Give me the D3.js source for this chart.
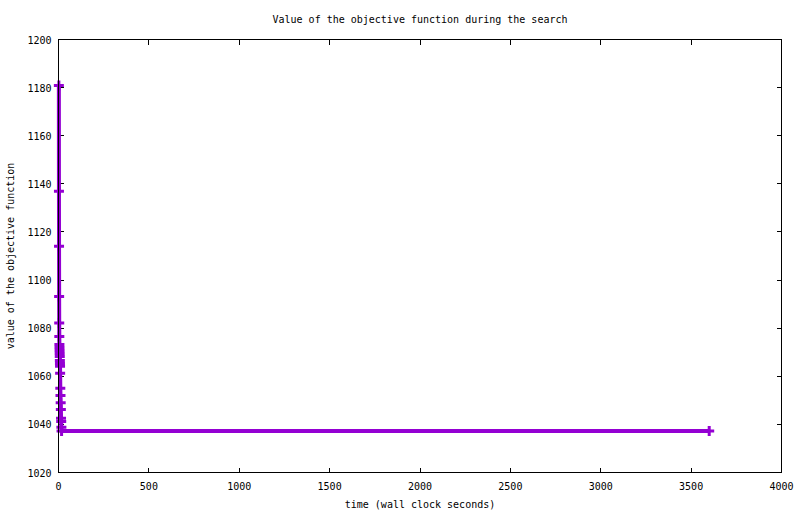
<!DOCTYPE html>
<html>
<head>
<meta charset="utf-8">
<script src="https://cdn.jsdelivr.net/npm/d3@7"></script>
<style>
  body { margin: 0; background: #fff; }
  text { font-family: "DejaVu Sans Mono", monospace; font-size: 10px; fill: #000; }
</style>
</head>
<body>
<div id="vis"></div>
<script>
// Values (time in seconds, objective value)
const TIMES = [2, 2.5, 3, 3.5, 4, 4.5, 5, 5.5, 6, 6.5, 7, 7.5, 8, 8.5, 9, 10, 11, 12, 13, 14, 15, 16, 17, 3600];
const VALUES = [1180.9, 1136.9, 1114.1, 1093.2, 1082.1, 1076.5, 1073.2, 1072.0, 1070.7, 1069.5, 1068.2, 1066.6,
                1065.3, 1064.2, 1061.3, 1055.0, 1052.0, 1049.0, 1046.2, 1042.6, 1041.2, 1038.8, 1037.3, 1037.3];
const X_TICKS = [0, 500, 1000, 1500, 2000, 2500, 3000, 3500, 4000];
const Y_TICKS = [1020, 1040, 1060, 1080, 1100, 1120, 1140, 1160, 1180, 1200];

const FRAME_WIDTH = 800;
const FRAME_HEIGHT = 514;
const MARGINS = {left: 58.5, right: 18.5, top: 39.5, bottom: 41.5};
const TICK_LEN = 5;
const COLOR = "#9400d3";

const FRAME = d3.select("#vis")
                .append("svg")
                .attr("width", FRAME_WIDTH)
                .attr("height", FRAME_HEIGHT);

const X_SCALE = d3.scaleLinear().domain([0, 4000]).range([MARGINS.left, FRAME_WIDTH - MARGINS.right]);
const Y_SCALE = d3.scaleLinear().domain([1020, 1200]).range([FRAME_HEIGHT - MARGINS.bottom, MARGINS.top]);

const x0 = X_SCALE.range()[0], x1 = X_SCALE.range()[1];
const y0 = Y_SCALE.range()[0], y1 = Y_SCALE.range()[1];

// ticks on all four sides, pointing inward
const ticks = FRAME.append("g").attr("stroke", "#000").attr("stroke-width", 1).attr("shape-rendering", "crispEdges");
X_TICKS.forEach(t => {
  ticks.append("line").attr("x1", X_SCALE(t)).attr("x2", X_SCALE(t)).attr("y1", y0).attr("y2", y0 - TICK_LEN);
  ticks.append("line").attr("x1", X_SCALE(t)).attr("x2", X_SCALE(t)).attr("y1", y1).attr("y2", y1 + TICK_LEN);
});
Y_TICKS.forEach(t => {
  ticks.append("line").attr("x1", x0).attr("x2", x0 + TICK_LEN).attr("y1", Y_SCALE(t)).attr("y2", Y_SCALE(t));
  ticks.append("line").attr("x1", x1).attr("x2", x1 - TICK_LEN).attr("y1", Y_SCALE(t)).attr("y2", Y_SCALE(t));
});

// tick labels
FRAME.append("g").selectAll("text").data(X_TICKS).enter().append("text")
     .attr("x", d => X_SCALE(d)).attr("y", y0 + 17)
     .attr("text-anchor", "middle").text(d => d);
FRAME.append("g").selectAll("text").data(Y_TICKS).enter().append("text")
     .attr("x", x0 - 7).attr("y", d => Y_SCALE(d) + 4)
     .attr("text-anchor", "end").text(d => d);

// data line
const pts = TIMES.map((t, i) => [t, VALUES[i]]);
FRAME.append("path")
     .attr("d", d3.line().x(d => X_SCALE(d[0])).y(d => Y_SCALE(d[1]))(pts))
     .attr("fill", "none").attr("stroke", COLOR).attr("stroke-width", 4);

// plus markers
FRAME.append("g").selectAll("path").data(pts).enter().append("path")
     .attr("d", d => {
       const cx = X_SCALE(d[0]), cy = Y_SCALE(d[1]), r = 5;
       return "M" + (cx - r) + "," + cy + "H" + (cx + r) + "M" + cx + "," + (cy - r) + "V" + (cy + r);
     })
     .attr("stroke", COLOR).attr("stroke-width", 3).attr("fill", "none");

// border box
FRAME.append("rect")
     .attr("x", x0).attr("y", y1).attr("width", x1 - x0).attr("height", y0 - y1)
     .attr("fill", "none").attr("stroke", "#000").attr("stroke-width", 1).attr("shape-rendering", "crispEdges");

// titles
FRAME.append("text").attr("x", (x0 + x1) / 2).attr("y", 23).attr("text-anchor", "middle")
     .text("Value of the objective function during the search");
FRAME.append("text").attr("x", (x0 + x1) / 2).attr("y", 508).attr("text-anchor", "middle")
     .text("time (wall clock seconds)");
FRAME.append("text").attr("transform", "translate(14," + ((y0 + y1) / 2) + ") rotate(-90)")
     .attr("text-anchor", "middle")
     .text("value of the objective function");
</script>
</body>
</html>
